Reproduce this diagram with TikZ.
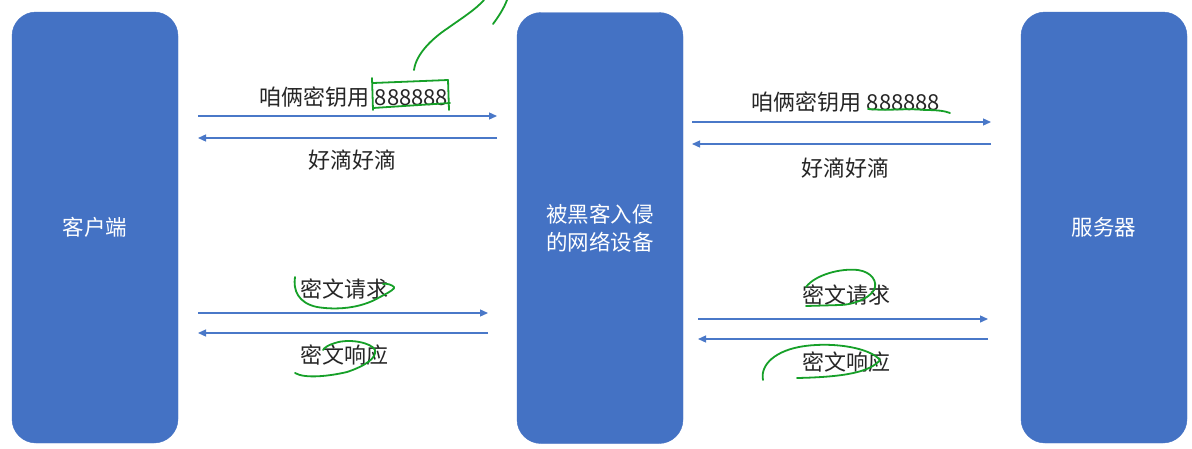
\documentclass[tikz,border=0pt]{standalone}
\usepackage{fontspec}
\setmainfont{Noto Sans CJK SC}
\usetikzlibrary{arrows.meta}
\definecolor{boxblue}{HTML}{4472C4}
\definecolor{arrowblue}{HTML}{4A78C8}
\definecolor{txt}{HTML}{262626}
\definecolor{pen}{RGB}{22,160,40}
\begin{document}
\begin{tikzpicture}[x=1pt,y=-1pt,
  box/.style={draw=boxblue,fill=boxblue,rounded corners=24pt,minimum width=166pt,minimum height=431pt,inner sep=0pt,text=white,font=\fontsize{21.5}{28}\selectfont,align=center},
  lbl/.style={text=txt,font=\fontsize{22}{26}\selectfont,inner sep=0pt,anchor=center},
  msg/.style={draw=arrowblue,line width=1.3pt,-{Triangle[length=8pt,width=7pt]}},
  ink/.style={draw=pen,line width=1.8pt,line cap=round,line join=round}]
\useasboundingbox (0,0) rectangle (1192,448);
\fill[white] (0,0) rectangle (1192,448);
% boxes
\node[box] (client) at (95,227.5) {客户端};
\node[box] (mid) at (600,228) {被黑客入侵\\的网络设备};
\node[box] (server) at (1104,227.5) {服务器};
% arrow end points
\coordinate (l1a) at (198,116); \coordinate (l1b) at (497,116);
\coordinate (l2a) at (497,138); \coordinate (l2b) at (198,138);
\coordinate (r1a) at (692,122); \coordinate (r1b) at (991,122);
\coordinate (r2a) at (991,144); \coordinate (r2b) at (692,144);
\coordinate (l3a) at (198,313); \coordinate (l3b) at (488,313);
\coordinate (l4a) at (488,333); \coordinate (l4b) at (198,333);
\coordinate (r3a) at (698,319); \coordinate (r3b) at (988,319);
\coordinate (r4a) at (988,339); \coordinate (r4b) at (698,339);
\draw[msg] (l1a) -- (l1b);
\draw[msg] (l2a) -- (l2b);
\draw[msg] (r1a) -- (r1b);
\draw[msg] (r2a) -- (r2b);
\draw[msg] (l3a) -- (l3b);
\draw[msg] (l4a) -- (l4b);
\draw[msg] (r3a) -- (r3b);
\draw[msg] (r4a) -- (r4b);
% labels
\node[lbl] (t1) at (354,97) {咱俩密钥用 888888};
\node[lbl] (t2) at (352,160) {好滴好滴};
\node[lbl] (t3) at (846,102) {咱俩密钥用 888888};
\node[lbl] (t4) at (845,168) {好滴好滴};
\node[lbl] (t5) at (344,289) {密文请求};
\node[lbl] (t6) at (344,355) {密文响应};
\node[lbl] (t7) at (846,295) {密文请求};
\node[lbl] (t8) at (846,362) {密文响应};
% green hand annotations
\draw[ink] (414,70) .. controls (416,55) and (430,40) .. (448,28) .. controls (462,18) and (475,10) .. (484,0);
\draw[ink] (493,24) .. controls (499,16) and (504,8) .. (507,0);
\draw[ink] (372,78) -- (373,110);
\draw[ink] (373,83) -- (448,80) -- (449,110);
\draw[ink] (373,108) -- (450,103);
\draw[ink] (868,109) .. controls (890,111) and (905,108) .. (925,110) .. controls (938,110) and (945,111) .. (950,113);
\draw[ink] (295,277) .. controls (293,290) and (298,303) .. (317,307) .. controls (335,310) and (360,309) .. (380,297) .. controls (390,292) and (396,288) .. (394,287) .. controls (392,285) and (387,283) .. (383,284);
\draw[ink] (295,373) .. controls (305,379) and (330,376) .. (347,372) .. controls (365,366) and (377,358) .. (375,350) .. controls (372,343) and (350,338) .. (335,343) .. controls (328,345) and (324,348) .. (323,350);
\draw[ink] (806,287) .. controls (815,275) and (840,268) .. (858,270) .. controls (872,272) and (878,282) .. (874,290) .. controls (868,300) and (850,305) .. (840,305) -- (806,306);
\draw[ink] (763,380) .. controls (760,365) and (775,350) .. (805,346) .. controls (835,342) and (870,348) .. (880,360) .. controls (870,372) and (845,377) .. (797,378);
\end{tikzpicture}
\end{document}
